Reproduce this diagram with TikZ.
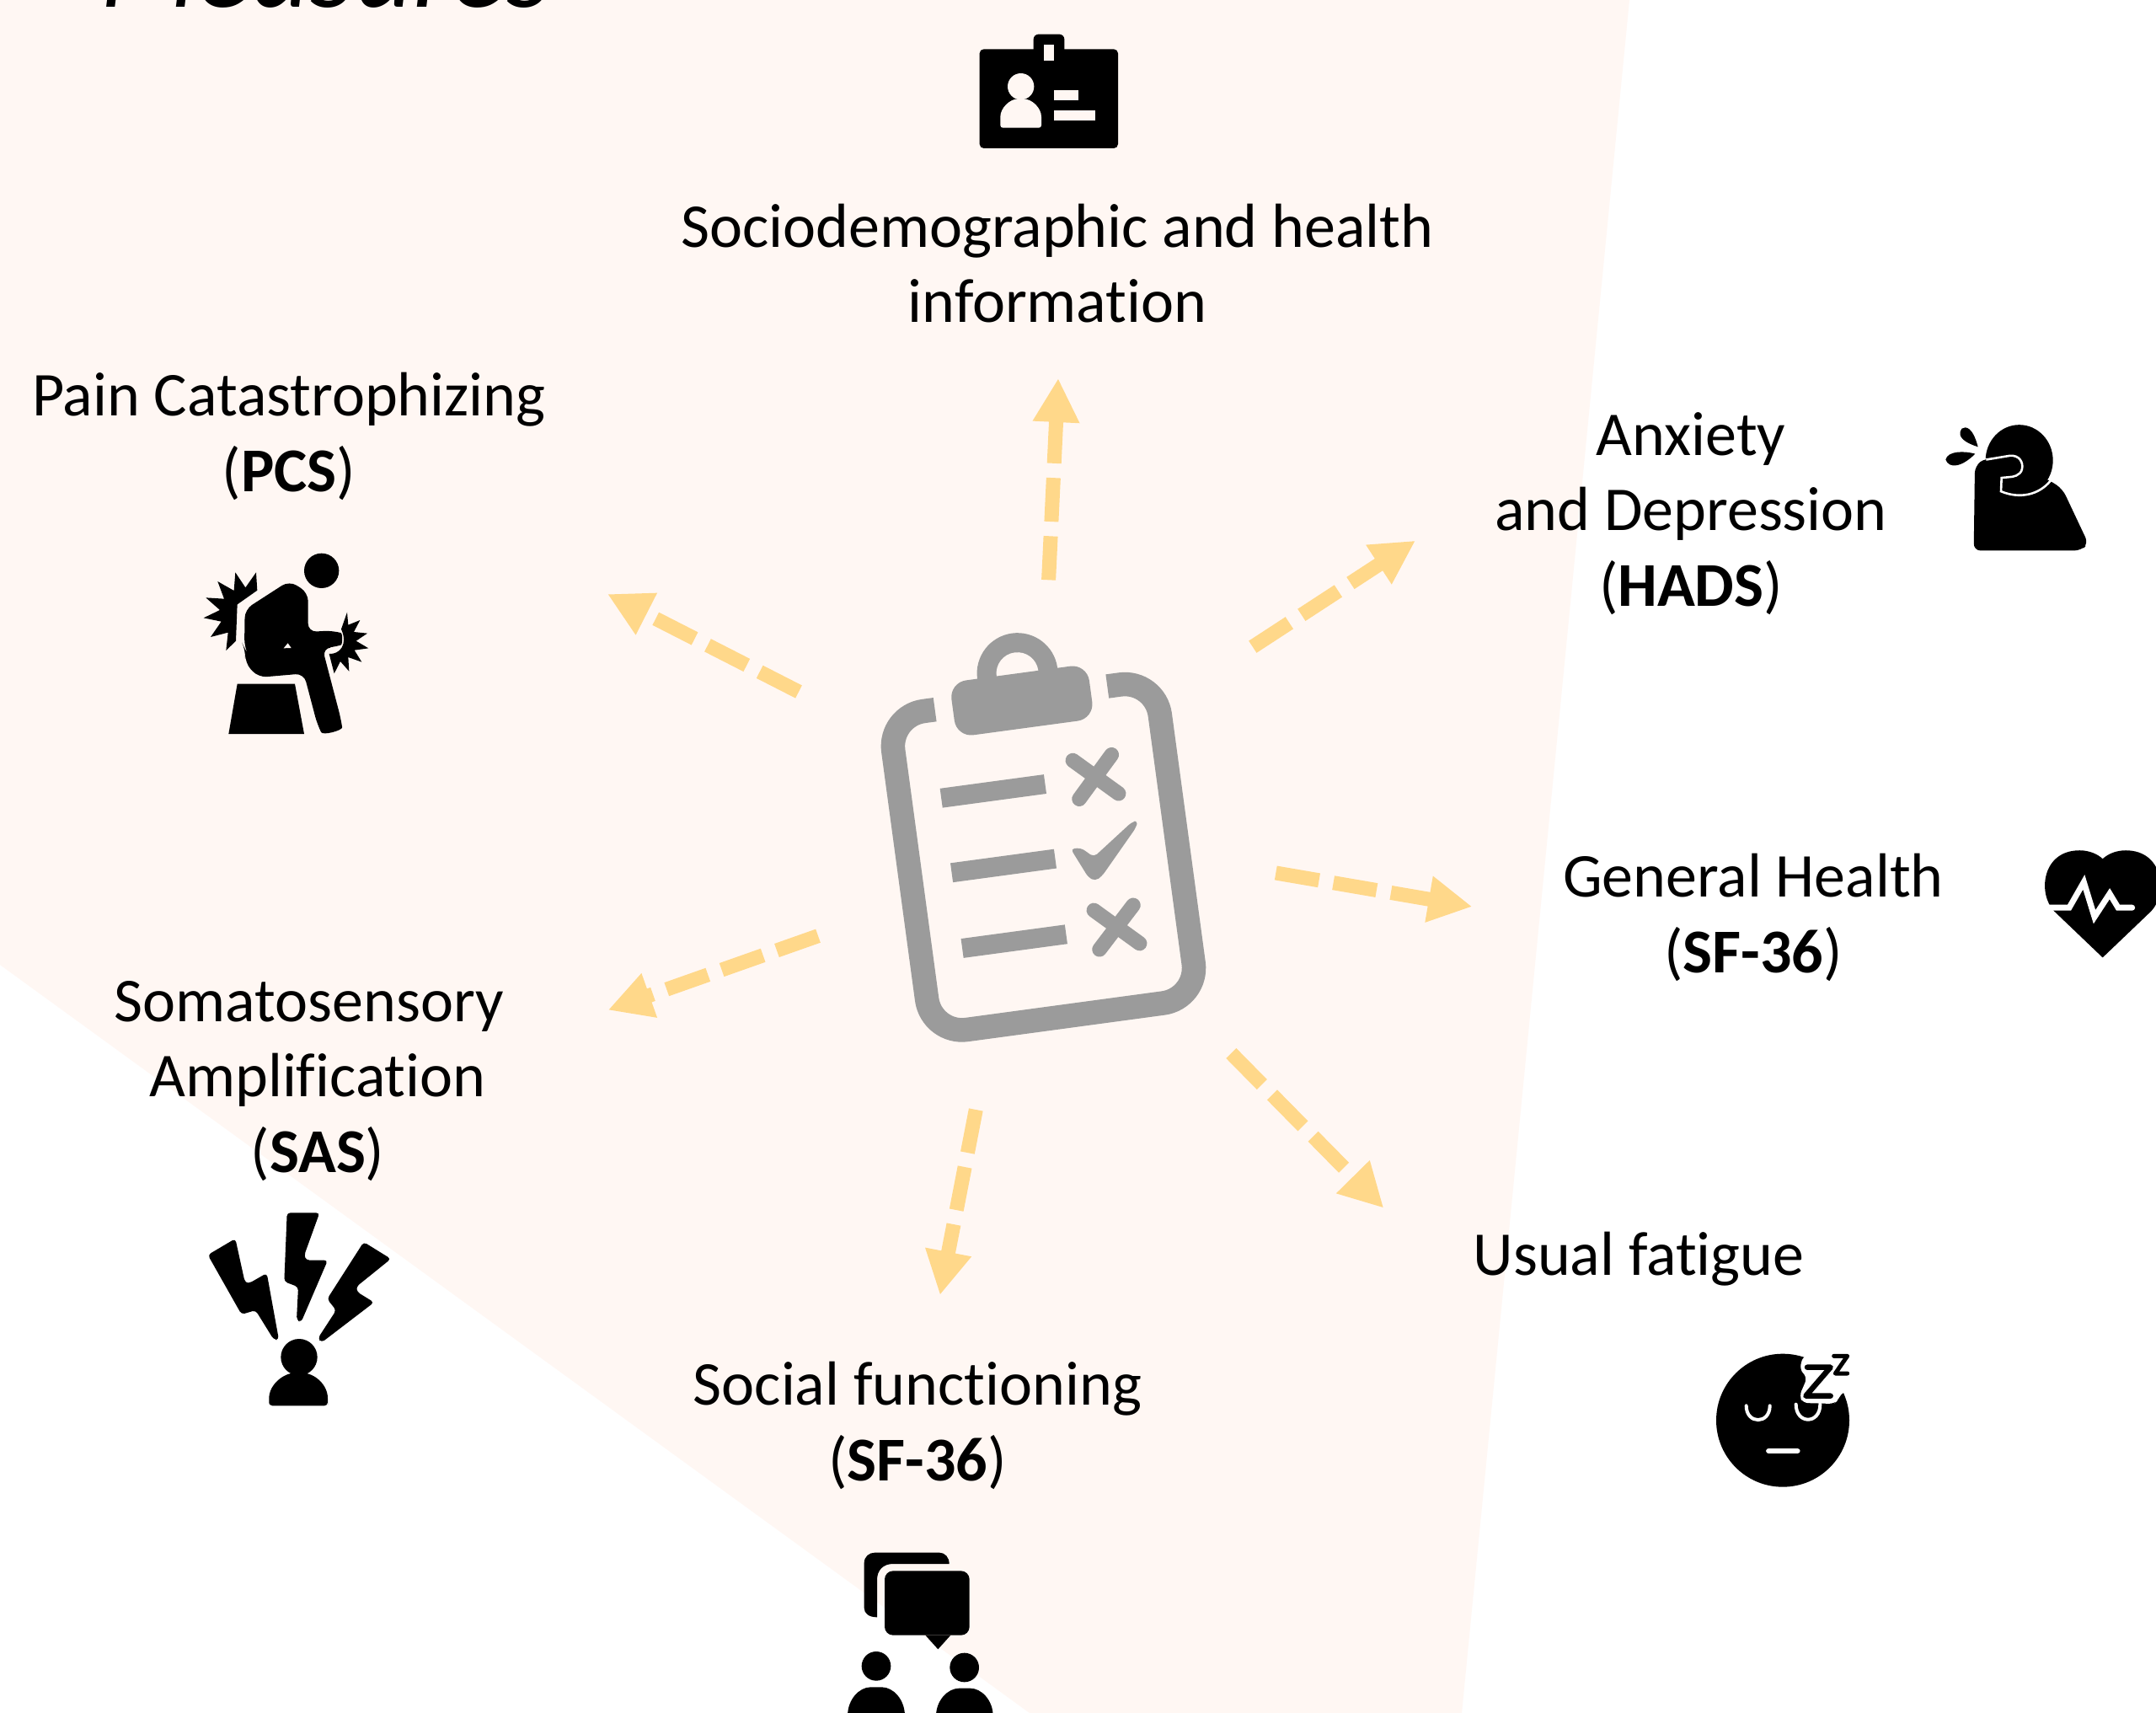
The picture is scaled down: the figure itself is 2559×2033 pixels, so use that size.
\documentclass[tikz,border=0pt]{standalone}
\usepackage{fontspec}
\setmainfont{Carlito}[Ligatures=NoCommon]
\usetikzlibrary{arrows.meta}
\definecolor{panel}{HTML}{FFF7F3}
\definecolor{flow}{HTML}{FFD88A}
\definecolor{boardgray}{HTML}{9B9B9B}
\tikzset{
  crop/.style n args={4}{shift={(#1,#2)},x=#3pt,y=-#4pt},
  label/.style={font=\fontsize{74}{89.5}\selectfont,align=center,anchor=base,inner sep=0pt,text=black},
  flowarrow/.style={draw=flow,line width=17pt,dash pattern=on 52pt off 17.3pt,-{Triangle[length=52pt,width=52pt,fill=flow]}},
  boardstroke/.style={draw=boardgray,line cap=round,line width=17.5pt}
}
\begin{document}
\begin{tikzpicture}[x=1pt,y=-1pt]
\useasboundingbox (0,0) rectangle (2559,2033);
\fill[white] (0,0) rectangle (2559,2033);
\fill[panel] (0,0) -- (1934,0) -- (1735,2033) -- (1222,2033) -- (0,1145) -- cycle;

% title, cut by the top edge
\node[inner sep=0pt,anchor=base west,font=\fontsize{135}{140}\selectfont\itshape] (title) at (119,9) {Measures};

% labels
\node[label] (socio) at (1255,383) {Sociodemographic and health\\information};
\node[label] (pcs) at (343,583) {Pain Catastrophizing\\(\textbf{PCS})};
\node[label] (hads) at (2007,719) {Anxiety\\and Depression\\(\textbf{HADS})};
\node[label] (gen) at (2081,1154) {General Health\\(\textbf{SF-36})};
\node[label] (fat) at (1945,1513) {Usual fatigue};
\node[label] (soc) at (1089,1757) {Social functioning\\(\textbf{SF-36})};
\node[label] (sas) at (377,1391) {Somatosensory\hspace*{20pt}\\Amplification\\(\textbf{SAS})};

% connectors
\coordinate (s1) at (1244.6,688.3); \coordinate (t1) at (1256,449);
\coordinate (s2) at (1486.8,767.7); \coordinate (t2) at (1680,641.7);
\coordinate (s3) at (1514.3,1036);  \coordinate (t3) at (1747.3,1076);
\coordinate (s4) at (1461.3,1250);  \coordinate (t4) at (1642.3,1433.7);
\coordinate (s5) at (1158.3,1317);  \coordinate (t5) at (1115.7,1537);
\coordinate (s6) at (971,1110.7);   \coordinate (t6) at (721.7,1198.7);
\coordinate (s7) at (948,821);      \coordinate (t7) at (721,705);
\foreach \n in {1,...,7} \draw[flowarrow] (s\n) -- (t\n);

% clipboard
\begin{scope}[shift={(1238.3,1016)},rotate=7.7]
  \draw[boardgray,line width=28.5pt,rounded corners=42pt] (-104.2,-189.5) -- (-159.7,-189.5) -- (-159.7,192) -- (159.7,192) -- (159.7,-189.5) -- (102.3,-189.5);
  \fill[boardgray] (-1.4,-219) circle [radius=48];
  \fill[panel] (-1.4,-219) circle [radius=25];
  \fill[boardgray,rounded corners=20pt] (-83,-219) rectangle (82,-153.5);
  \fill[boardgray] (-110.8,-95.9) rectangle (13.6,-72.9);
  \fill[boardgray] (-110.4,-6.5) rectangle (13.6,16.5);
  \fill[boardgray] (-110,84.1) rectangle (14.4,107.1);
\end{scope}
\begin{scope}[crop={1000}{700}{0.33333}{0.35714}]
  \draw[boardstroke] (820,567) -- (983,677) (958,548) -- (843,695);
  \draw[boardstroke] (895,1065) -- (1058,1175) (1035,1048) -- (915,1195);
  \fill[boardgray,rounded corners=5pt] (812,860) -- (850,858) -- (895,888) -- (1030,772) -- (1052,766) -- (1045,790) -- (925,950) -- (900,968) -- (875,955) -- cycle;
\end{scope}

% ID badge
\begin{scope}[crop={1130}{20}{0.33333}{0.33333}]
  \fill[rounded corners=5pt] (98,115) rectangle (591,468);
  \fill[rounded corners=6pt] (290,62) rectangle (400,140);
  \fill[panel] (326,98) rectangle (363,156);
  \fill[panel] (245,248) circle [radius=47];
  \fill[panel,rounded corners=3pt] (172,395) -- (172,365) .. controls (172,325) and (205,292) .. (245,292) .. controls (285,292) and (318,325) .. (318,365) -- (318,395) -- cycle;
  \fill[panel] (363,262) rectangle (450,298);
  \fill[panel] (363,334) rectangle (511,370);
\end{scope}

% pain figure
\begin{scope}[crop={200}{640}{0.33333}{0.33333}]
  \fill (545,112) circle [radius=62];
  \fill[rounded corners=10pt] (272,250) -- (430,148) -- (497,190) -- (497,330) -- (585,325) .. controls (620,335) and (620,375) .. (585,385) -- (548,388) -- (614,640) .. controls (620,680) and (550,700) .. (530,660) -- (482,478) -- (320,492) -- (272,440) -- (275,395) -- (270,385) -- cycle;
  \fill[panel] (425,370) -- (410,388) -- (437,387) -- cycle;
  \fill (312,118) -- (316,182) -- (245,232) -- (240,362) -- (205,396) -- (212,332) -- (150,348) -- (188,293) -- (125,280) -- (183,252) -- (133,208) -- (198,212) -- (175,150) -- (233,183) -- (238,118) -- (274,172) -- cycle;
  \fill (636,260) -- (640,305) -- (682,288) -- (660,330) -- (708,335) -- (668,362) -- (712,388) -- (662,395) -- (688,437) -- (640,420) -- (643,470) -- (612,435) -- (590,478) -- (572,408) .. controls (610,410) and (640,375) .. (615,320) -- cycle;
  \fill (245,515) -- (450,515) -- (483,693) -- (214,693) -- cycle;
\end{scope}

% anxiety figure
\begin{scope}[crop={2200}{450}{0.33333}{0.45914}]
  \fill (590,210) ellipse [x radius=120,y radius=92];
  \fill[rounded corners=8pt] (432,225) -- (470,203) -- (700,262) -- (745,285) -- (836,425) -- (810,443) -- (428,443) -- cycle;
  \fill (443,175) .. controls (400,165) and (365,150) .. (385,128) .. controls (400,120) and (425,125) .. (443,175) -- cycle;
  \fill (433,193) .. controls (395,185) and (335,185) .. (328,208) .. controls (340,232) and (385,228) .. (433,193) -- cycle;
  \draw[white,line width=2.6pt] (472,208) -- (555,198) .. controls (590,195) and (605,215) .. (600,232) .. controls (595,250) and (565,253) .. (555,253) -- (527,255) -- (525,290) .. controls (590,310) and (660,300) .. (702,262);
  % heart
  \fill (887,1495) -- (714,1375) .. controls (655,1330) and (670,1218) .. (805,1218) .. controls (840,1218) and (870,1228) .. (887,1240) .. controls (904,1228) and (934,1218) .. (969,1218) .. controls (1104,1218) and (1119,1330) .. (1060,1375) -- cycle;
  \draw[white,line width=7pt,line cap=round,line join=miter] (680,1366) -- (768,1366) -- (820,1300) -- (858,1390) -- (912,1330) -- (942,1366) -- (992,1366);
\end{scope}

% somatosensory figure
\begin{scope}[crop={220}{1420}{0.33333}{0.33333}]
  \fill[rounded corners=4pt] (80,208) -- (178,150) -- (212,305) -- (225,310) -- (290,273) -- (333,510) -- (315,510) -- (250,405) -- (200,420) -- cycle;
  \fill[rounded corners=4pt] (362,58) -- (478,58) -- (423,210) -- (430,227) -- (507,227) -- (412,448) -- (396,440) -- (402,322) -- (352,303) -- cycle;
  \fill[rounded corners=4pt] (635,162) -- (732,222) -- (608,322) -- (612,340) -- (672,377) -- (485,520) -- (472,505) -- (537,405) -- (505,365) -- cycle;
  \fill (405,572) circle [radius=65];
  \fill[rounded corners=4pt] (298,745) -- (298,730) .. controls (298,670) and (350,628) .. (403,628) .. controls (460,628) and (507,670) .. (507,730) -- (507,745) -- cycle;
\end{scope}

% fatigue figure
\begin{scope}[crop={1980}{1570}{0.33333}{0.33333}]
  \fill (408,347) circle [radius=237];
  \fill[white,rounded corners=6pt] (480,118) -- (650,95) -- (665,245) -- (620,245) -- (605,275) -- (590,288) -- (480,285) -- (467,260) -- (495,195) -- (468,165) -- cycle;
  \draw[line width=6.5pt,line cap=round,line join=round] (495,158) -- (578,158) -- (490,260) -- (578,260);
  \draw[line width=5pt,line cap=round,line join=round] (590,118) -- (638,118) -- (595,180) -- (638,180);
  \draw[white,line width=4pt,line cap=round] (278,295) .. controls (278,362) and (362,362) .. (362,295);
  \draw[white,line width=4pt,line cap=round] (455,290) .. controls (455,362) and (541,362) .. (541,290);
  \draw[white,line width=6.5pt,line cap=round] (358,456) -- (460,456);
\end{scope}

% social figure
\begin{scope}[crop={980}{1820}{0.33333}{0.33333}]
  \fill (183,298) .. controls (155,298) and (137,285) .. (137,265) -- (137,105) .. controls (137,82) and (155,68) .. (175,68) -- (405,68) .. controls (425,68) and (440,85) .. (440,108) -- (240,108) .. controls (205,108) and (183,130) .. (183,165) -- cycle;
  \fill[rounded corners=10pt] (210,133) rectangle (512,362);
  \fill (355,362) -- (445,362) -- (400,412) -- cycle;
  \fill (180,472) circle [radius=52];
  \fill (494,477) circle [radius=52];
  \fill (78,650) .. controls (78,590) and (120,547) .. (160,547) -- (200,547) .. controls (240,547) and (282,590) .. (282,650) -- cycle;
  \fill (393,650) .. controls (393,594) and (435,551) .. (475,551) -- (515,551) .. controls (555,551) and (596,594) .. (596,650) -- cycle;
\end{scope}
\end{tikzpicture}
\end{document}
